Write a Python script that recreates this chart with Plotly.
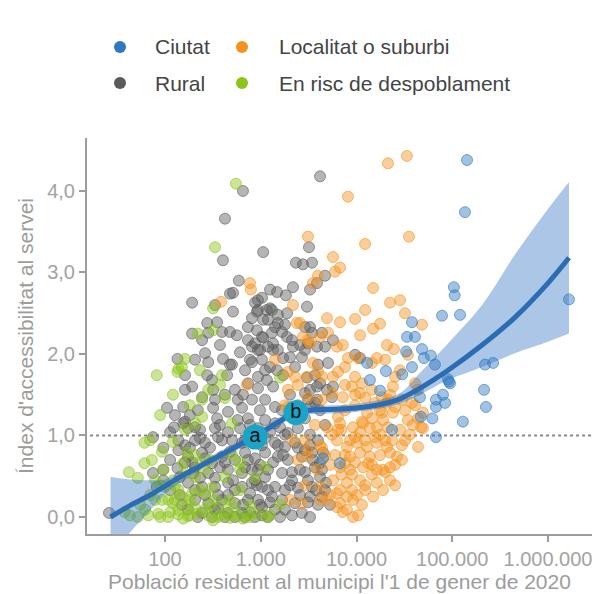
import plotly.graph_objects as go

# ---------------- data ----------------
categories = ["Ciutat", "Localitat o suburbi", "Rural", "En risc de despoblament"]
colors = {"Ciutat": "#2f78c0", "Localitat o suburbi": "#f5921e",
          "Rural": "#5a5a5a", "En risc de despoblament": "#8cc41a"}

ciutat_pop = [142600, 135800, 1656000, 104000, 106000, 78200, 120600, 38000, 33700, 40800,
              48300, 50600, 59700, 66000, 220000, 267000, 12900, 20300, 38000, 90300,
              92500, 46000, 67600, 80000, 84000, 67600, 215000, 225000, 47000, 62000,
              129000, 67600, 13800, 94800, 23500, 6700, 4470, 33000, 17600, 30000]
ciutat_idx = [4.38, 3.74, 2.67, 2.82, 2.72, 2.47, 2.48, 2.39, 2.21, 2.21,
              2.06, 1.95, 1.98, 1.87, 1.87, 1.89, 1.89, 1.79, 1.84, 1.69,
              1.66, 1.47, 1.44, 1.50, 1.40, 1.35, 1.56, 1.35, 1.23, 1.21,
              1.17, 0.98, 1.68, 1.64, 1.07, 0.66, 0.72, 2.03, 1.55, 1.75]

rural_pop = [652, 423, 1060, 403, 2330, 590, 513, 477, 192, 1480, 1830, 2170, 871, 1030, 912,
             1160, 1880, 276, 350, 394, 735, 912, 1060, 1310, 1510, 192, 283, 477, 562, 735,
             871, 1060, 1345, 1880, 2170, 135, 262, 283, 403, 477, 772, 982, 1345, 1710, 2020,
             276, 310, 445, 735, 162, 192, 244, 318, 333, 538, 575, 810, 105, 127, 182,
             162, 318, 350, 455, 637, 124, 174, 735, 810, 810, 501, 4160, 3190, 2760, 3430,
             4690, 3870, 3270, 935, 3040, 1250, 935, 1510, 1190, 1410, 1030, 1310, 1670, 935, 1190,
             1510, 2120, 2900, 3430, 4360, 5680, 3110, 3870, 2690, 2280, 1030, 1250, 1480, 935, 1160,
             1345, 3960, 5040, 9660, 10900, 3040, 3690, 3870, 4920, 2900, 3110, 1110, 1410, 1670, 3870,
             982, 1110, 1410, 3690, 4160, 5540, 1590, 1920, 2440, 3270, 1410, 1790, 2280, 1110, 1510,
             1920, 2690, 3430, 935, 1190, 1670, 2120, 2900, 3690, 4160, 4800, 1030, 1410, 1790, 2440,
             3430, 4690, 935, 1250, 1670, 2280, 3110, 3960, 1190, 1590, 2120, 2690, 4360, 138, 174,
             244, 310, 394, 538, 685, 138, 206, 262, 358, 501, 637, 206, 283, 455, 637,
             810, 174, 244, 333, 455, 637, 810, 206, 283, 394, 538, 735, 174, 244, 333,
             455, 637, 75, 75, 96, 135, 26, 82, 113, 155, 206, 155, 96, 143, 871,
             685, 538, 423, 310, 220, 3270, 935, 1030, 871, 772, 1030, 3270, 4160, 5680, 3270,
             2900, 3510, 4160, 3270, 4470, 3270, 4690, 2900,
             232, 375, 607, 162, 295, 477, 192, 375, 735, 232, 538, 358, 150, 772, 1030,
             1410, 2020, 2570, 3270, 1790, 1250, 982, 1190, 871,
             162, 198, 262, 333, 423, 513, 685, 912, 1110, 1345, 1710, 2120, 2570, 3110, 3780,
             4360, 5290, 1790, 1310, 982, 652, 455, 358, 262, 206, 143, 113, 113, 96, 182,
             232, 333, 455, 685, 1110, 1510, 2440, 3960, 4690, 2900, 2020, 772, 575, 394,
             220, 423, 652, 935, 1710, 2020, 2440, 685, 1110, 375, 607, 1790, 2570, 1250,
             810, 513, 333, 244, 162, 206]
rural_idx = [4.00, 3.66, 3.25, 3.15, 3.12, 2.90, 2.75, 2.74, 2.63, 2.76, 2.72, 2.82, 2.63, 2.69, 2.52,
             2.54, 2.50, 2.38, 2.39, 2.27, 2.33, 2.29, 2.42, 2.54, 2.38, 2.25, 2.26, 2.27, 2.23, 2.17,
             2.13, 2.20, 2.13, 2.21, 2.09, 1.94, 2.01, 1.90, 1.94, 1.87, 1.93, 2.05, 2.05, 1.95, 1.96,
             1.74, 1.68, 1.74, 1.64, 1.56, 1.60, 1.47, 1.56, 1.44, 1.56, 1.44, 1.44, 1.34, 1.25, 1.25,
             1.17, 1.34, 1.21, 1.29, 1.34, 1.10, 1.09, 1.21, 2.09, 1.90, 1.87, 4.18, 3.31, 3.10, 3.12,
             2.96, 2.87, 2.79, 2.66, 2.58, 2.56, 2.54, 2.48, 2.42, 2.33, 2.21, 2.26, 2.27, 2.05, 2.09,
             2.05, 2.17, 2.33, 2.26, 2.26, 2.17, 2.13, 2.09, 1.96, 1.84, 1.93, 1.84, 1.80, 1.72, 1.68,
             1.60, 1.87, 1.89, 1.99, 1.95, 1.71, 1.74, 1.60, 1.56, 1.52, 1.44, 1.44, 1.35, 1.31, 1.44,
             1.31, 1.19, 1.15, 1.40, 1.31, 1.47, 1.10, 1.03, 1.09, 1.01, 0.91, 0.86, 0.91, 0.79, 0.74,
             0.70, 0.74, 0.79, 0.58, 0.58, 0.54, 0.55, 0.55, 0.61, 0.49, 0.42, 0.37, 0.37, 0.33, 0.36,
             0.37, 0.33, 0.21, 0.18, 0.21, 0.17, 0.18, 0.15, 0.00, 0.00, 0.02, 0.05, 0.25, 0.82, 0.74,
             0.79, 0.66, 0.74, 0.70, 0.79, 0.94, 0.94, 0.91, 0.98, 0.94, 0.91, 0.61, 0.54, 0.58, 0.54,
             0.58, 0.42, 0.37, 0.37, 0.42, 0.37, 0.42, 0.21, 0.17, 0.21, 0.17, 0.21, 0.09, 0.05, 0.09,
             0.05, 0.05, 0.98, 0.54, 0.58, 0.60, 0.05, 0.37, 1.04, 1.15, 1.10, 1.35, 0.45, 0.49, 0.00,
             0.00, 0.00, 0.00, 0.00, 0.00, 0.00, 1.09, 0.88, 0.72, 0.29, 0.12, 1.56, 1.64, 1.60, 1.35,
             0.82, 0.70, 0.66, 0.25, 0.79, 2.33, 2.09, 2.05,
             1.07, 1.13, 1.09, 0.88, 0.85, 0.80, 0.67, 0.61, 0.70, 0.48, 0.33, 0.27, 0.15, 0.06, 0.02,
             0.09, 0.39, 0.58, 0.88, 1.01, 1.04, 0.64, 0.33, 0.45,
             0.67, 0.54, 0.72, 0.48, 0.67, 0.45, 0.61, 0.39, 0.49, 0.67, 0.76, 0.45, 0.27, 0.45, 0.33,
             0.58, 0.15, 0.09, 0.25, 0.15, 0.15, 0.27, 0.11, 0.27, 0.33, 0.27, 0.33, 0.70, 0.85, 0.85,
             0.97, 1.09, 1.04, 0.94, 0.97, 0.88, 0.85, 0.94, 1.13, 1.21, 1.29, 1.13, 1.19, 0.94,
             1.31, 1.50, 1.50, 1.58, 1.74, 1.50, 1.37, 1.80, 1.80, 2.11, 2.02, 2.36, 2.11, 2.79,
             2.44, 2.52, 2.60, 2.17, 1.74, 1.93]

risc_pop = [550, 333, 318, 220, 318, 162, 138, 150, 232, 394, 82, 135, 244, 423, 244, 206, 501,
            61, 93, 42, 61, 375, 79, 100, 121, 93, 121, 150, 192, 67, 85, 108, 138, 174, 220,
            283, 358, 455, 575, 735, 43, 52, 138, 262, 333, 162, 206, 155, 127, 1110, 1160, 1590,
            170, 38, 501, 295, 423, 607, 772, 262, 206, 423, 538, 174, 113, 935, 232, 607, 310,
            89, 155, 318, 652, 62, 79,
            55, 70, 89, 108, 138, 182, 232, 295, 375, 477, 182, 127, 96, 73, 52, 206, 121,
            477, 772, 1250, 1590, 871, 607, 262, 162, 89, 70, 121, 182, 283]
risc_idx = [4.09, 3.31, 2.56, 2.25, 2.29, 1.94, 1.82, 1.84, 1.80, 1.74, 1.74, 1.78, 1.44, 1.46, 1.23, 1.15, 1.15,
            0.91, 0.80, 0.55, 0.66, 1.62, 0.45, 0.37, 0.45, 0.21, 0.17, 0.25, 0.29, 0.02, 0.04, 0.00, 0.03, 0.01, 0.04,
            0.02, 0.00, 0.03, 0.01, 0.02, 0.02, 0.00, 0.33, 0.29, 0.21, 0.54, 0.49, 0.66, 0.21, 0.61, 0.00, 1.71,
            0.79, 0.06, 0.76, 0.70, 0.49, 0.33, 0.15, 0.09, 0.11, 0.15, 0.11, 0.15, 0.06, 0.04, 0.67, 0.58, 0.36,
            0.00, -0.02, -0.04, -0.02, 0.09, 0.21,
            0.15, 0.27, 0.39, 0.21, 0.09, 0.21, 0.33, 0.15, 0.02, 0.21, 0.02, 0.39, 0.58, 0.70, 0.48, 0.76, 0.92,
            -0.01, 0.00, 0.02, 0.15, 0.48, 0.67, 0.58, 1.07, 1.25, 0.94, 1.50, 1.37, 1.56]

local_pop = [33600, 21300, 8150, 3110, 12300, 35300, 5680, 6730, 5970, 3960, 3510, 14900, 22400, 28500,
             2170, 32100, 4920, 6730, 9660, 14900, 17600, 48300, 20800, 24600, 34400, 16300, 2570, 2760,
             3270, 3510, 5040, 6260, 772, 790, 385, 3110, 4160, 8150, 10400, 14500, 1410, 1920, 2280,
             3960, 4360, 6410, 7590, 9660, 11400, 25300, 2440, 1920, 3110, 4360, 5540, 8970, 9660, 14500,
             18400, 21300, 29800, 37900, 40900, 43900, 25300, 32100, 18400, 6410, 11400, 14500, 34400, 43900,
             1920, 3040, 5680, 7590, 24000, 7200, 10900, 20800, 12900, 17600, 24000, 49400, 4920, 6730,
             9200, 11700, 16300, 18900, 28500, 38800, 49400, 6260, 7950, 10100, 12900, 16300, 20800, 26500,
             29800, 8560, 10900, 13800, 17600, 22400, 6730, 8560, 11700, 16300, 22400, 5680, 7950, 10900,
             16300, 22400, 6260, 7950, 10100, 14900, 6730, 9200, 9200, 10400, 3870, 4160, 4920, 6260,
             6410, 21300, 3110, 4360, 7590, 13200, 29800, 2690, 3110, 40900, 47200, 718, 1790, 2570,
             2170, 2440, 2900, 2020, 2900, 2380, 9660, 12300, 15600, 19900, 7590, 14500, 18900, 12300, 7200,
             5540, 6960, 8560, 10900, 13800, 17600, 23500, 32100, 25300, 19900, 14500, 9660, 6960, 5290,
             4690, 5970, 8970, 12300, 18900, 25300, 8970, 6730, 5290, 11400, 7950, 4160, 3690, 4160,
             36200, 43900, 7590, 9660, 12300, 15600, 22400, 7200, 10900, 19900, 28500, 12300]
local_idx = [4.43, 4.34, 3.93, 3.44, 3.35, 3.44, 3.19, 3.06, 3.01, 2.96, 2.87, 2.81, 2.63, 2.66,
             2.60, 2.50, 2.44, 2.39, 2.43, 2.31, 2.37, 2.36, 2.11, 2.06, 1.99, 1.95, 2.38, 2.21,
             2.13, 1.89, 2.26, 2.09, 2.87, 2.79, 2.64, 2.17, 2.21, 1.95, 1.95, 1.89, 1.93, 1.78, 1.72,
             1.78, 1.72, 1.78, 1.84, 1.72, 1.64, 1.72, 1.62, 1.56, 1.47, 1.44, 1.52, 1.60, 1.50, 1.56,
             1.47, 1.44, 1.44, 1.40, 1.64, 1.56, 1.35, 1.31, 1.28, 1.23, 1.17, 1.21, 1.19, 1.21,
             1.35, 1.72, 1.72, 1.62, 1.60, 1.47, 1.52, 1.40, 1.28, 1.31, 1.28, 1.28, 1.10, 1.15,
             1.10, 1.15, 1.10, 1.19, 1.07, 1.13, 1.09, 0.94, 0.86, 0.91, 0.86, 0.91, 0.86, 0.74,
             0.88, 0.74, 0.79, 0.74, 0.76, 0.79, 0.61, 0.58, 0.61, 0.58, 0.61, 0.45, 0.42, 0.45,
             0.42, 0.45, 0.29, 0.25, 0.27, 0.25, 0.17, 0.21, 0.00, 0.02, 0.58, 0.37, 0.21, 0.12,
             1.07, 1.10, 0.82, 0.85, 0.66, 0.66, 0.70, 0.17, 0.74, 1.37, 1.10, 1.62, 1.37, 1.25,
             0.94, 0.70, 0.39, 0.21, 0.94, 2.38, 0.98, 0.94, 0.98, 0.94, 0.76, 0.52, 0.58, 0.33, 0.06,
             1.01, 1.07, 0.94, 1.04, 1.09, 1.01, 0.94, 0.94, 0.64, 0.55, 0.64, 0.67, 0.52, 0.64,
             0.76, 0.76, 0.52, 0.39, 0.33, 0.39, 0.33, 0.33, 0.27, 0.15, 0.09, 0.21, 1.13, 0.88,
             1.01, 0.86, 1.31, 1.37, 1.46, 1.40, 1.50, 2.11, 2.23, 1.93, 1.80, 2.54]

# smoothed fit and its confidence band
fit_pop = [27, 43, 70, 100, 143, 206, 295, 477, 830, 1410, 2280, 3270, 5290, 8560, 17600,
           28500, 46100, 90300, 205000, 452000, 1000000, 1656000]
fit_idx = [0.00, 0.14, 0.27, 0.38, 0.49, 0.59, 0.69, 0.82, 0.98, 1.14, 1.28, 1.31, 1.32, 1.33, 1.38,
           1.45, 1.58, 1.80, 2.11, 2.45, 2.87, 3.18]
fit_hi = [0.49, 0.46, 0.45, 0.46, 0.54, 0.63, 0.74, 0.87, 1.03, 1.19, 1.33, 1.36, 1.37, 1.38, 1.44,
          1.52, 1.77, 2.13, 2.60, 3.22, 3.78, 4.11]
fit_lo = [-0.49, -0.19, 0.08, 0.28, 0.42, 0.54, 0.64, 0.77, 0.93, 1.09, 1.23, 1.26, 1.27, 1.28, 1.33,
          1.39, 1.50, 1.68, 1.84, 2.01, 2.15, 2.25]

# labelled reference points
label_text = ["a", "b"]
label_pop = [871, 2330]
label_idx = [0.98, 1.28]

reference_level = 1.0
x_tickvals = [100, 1000, 10000, 100000, 1000000]
x_ticktext = ["100", "1.000", "10.000", "100.000", "1.000.000"]
y_tickvals = [0, 1, 2, 3, 4]
y_ticktext = ["0,0", "1,0", "2,0", "3,0", "4,0"]

# ---------------- figure ----------------
FONT = "Liberation Sans, Arial, sans-serif"
AXIS_GREY = "#9c9c9c"


def rgba(hex_color, a):
    h = hex_color.lstrip("#")
    r, g, b = int(h[0:2], 16), int(h[2:4], 16), int(h[4:6], 16)
    return f"rgba({r},{g},{b},{a})"


fig = go.Figure()

series = [
    ("Rural", rural_pop, rural_idx),
    ("En risc de despoblament", risc_pop, risc_idx),
    ("Localitat o suburbi", local_pop, local_idx),
    ("Ciutat", ciutat_pop, ciutat_idx),
]
for name, xs, ys in series:
    c = colors[name]
    fig.add_trace(go.Scatter(
        x=xs, y=ys, mode="markers", name=name, showlegend=False, hoverinfo="skip",
        marker=dict(size=11, color=rgba(c, 0.45), line=dict(color=rgba(c, 0.6), width=1)),
    ))

fig.add_trace(go.Scatter(x=fit_pop, y=fit_lo, mode="lines", line=dict(width=0, shape="spline"),
                         showlegend=False, hoverinfo="skip"))
fig.add_trace(go.Scatter(x=fit_pop, y=fit_hi, mode="lines", line=dict(width=0, shape="spline"),
                         fill="tonexty", fillcolor="rgba(44,112,192,0.40)",
                         showlegend=False, hoverinfo="skip"))
fig.add_trace(go.Scatter(x=fit_pop, y=fit_idx, mode="lines",
                         line=dict(color="#2b6cb3", width=5, shape="spline"),
                         showlegend=False, hoverinfo="skip"))
fig.add_trace(go.Scatter(x=label_pop, y=label_idx, mode="markers+text", text=label_text,
                         textposition="middle center",
                         textfont=dict(family=FONT, size=20, color="#111111"),
                         marker=dict(size=25, color="#19a4c8"),
                         showlegend=False, hoverinfo="skip"))

fig.add_shape(type="line", xref="paper", yref="y", x0=0.006, x1=1,
              y0=reference_level, y1=reference_level,
              line=dict(color="#8a8a8a", width=2, dash="dot"), layer="below")

# manual two-row legend
L_LEFT, L_W, L_TOP, L_H = 87, 505, 138, 396


def px(xp):
    return (xp - L_LEFT) / L_W


def py(yp):
    return (L_TOP + L_H - yp) / L_H


legend_layout = [("Ciutat", 120, 153, 47), ("Localitat o suburbi", 242, 277, 47),
                 ("Rural", 120, 153, 83), ("En risc de despoblament", 242, 277, 83)]
for name, cx, tx, cy in legend_layout:
    fig.add_shape(type="circle", xref="paper", yref="paper",
                  xsizemode="pixel", ysizemode="pixel",
                  xanchor=px(cx), yanchor=py(cy), x0=-6, x1=6, y0=-6, y1=6,
                  fillcolor=colors[name], line=dict(width=0))
    fig.add_annotation(text=name, xref="paper", yref="paper", x=px(tx), y=py(cy),
                       xanchor="left", yanchor="middle", showarrow=False,
                       font=dict(family=FONT, size=21, color="#444444"))

fig.update_layout(
    width=601, height=594,
    margin=dict(l=87, r=9, t=138, b=60, autoexpand=False),
    paper_bgcolor="white", plot_bgcolor="white",
    font=dict(family=FONT, size=20, color=AXIS_GREY),
    showlegend=False,
)
fig.update_xaxes(
    type="log", range=[1.1854, 6.4595], automargin=False,
    tickvals=x_tickvals, ticktext=x_ticktext,
    showgrid=False, zeroline=False,
    showline=True, linecolor=AXIS_GREY, linewidth=2,
    ticks="outside", ticklen=6, tickwidth=2, tickcolor=AXIS_GREY,
    tickfont=dict(family=FONT, size=20, color="#a3a3a3"),
    title=dict(text="Població resident al municipi l'1 de gener de 2020",
               font=dict(family=FONT, size=21, color=AXIS_GREY), standoff=1),
)
fig.update_yaxes(
    range=[-0.2086, 4.650], automargin=False,
    tickvals=y_tickvals, ticktext=y_ticktext,
    showgrid=False, zeroline=False,
    showline=True, linecolor=AXIS_GREY, linewidth=2,
    ticks="outside", ticklen=6, tickwidth=2, tickcolor=AXIS_GREY,
    tickfont=dict(family=FONT, size=20, color="#a3a3a3"),
    title=dict(text="Índex d'accessibilitat al servei",
               font=dict(family=FONT, size=21, color=AXIS_GREY), standoff=8),
)

fig.write_html("out.html", config={"displayModeBar": False},
               post_script="document.body.style.margin='0';document.body.style.overflow='hidden';")
